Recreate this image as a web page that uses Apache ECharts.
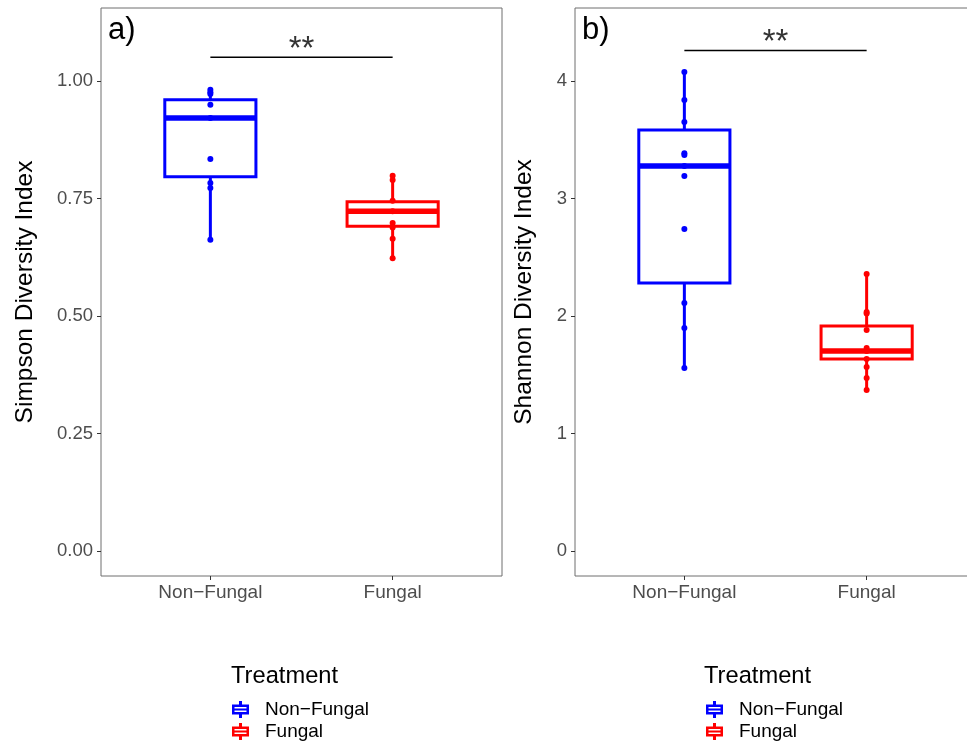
<!DOCTYPE html>
<html>
<head>
<meta charset="utf-8">
<script src="https://cdn.jsdelivr.net/npm/echarts@6/dist/echarts.min.js"></script>
<style>
html,body{margin:0;padding:0;background:#fff;}
#chart{width:967px;height:741px;}
</style>
</head>
<body>
<div id="chart"></div>
<script>
// ---------- data ----------
const categories = ['Non−Fungal', 'Fungal'];

// box stats: [min, Q1, median, Q3, max]
const simpsonNonFungalBox = [0.662, 0.796, 0.921, 0.960, 0.981];
const simpsonFungalBox    = [0.623, 0.691, 0.723, 0.743, 0.798];
const shannonNonFungalBox = [1.557, 2.281, 3.277, 3.583, 4.077];
const shannonFungalBox    = [1.370, 1.634, 1.702, 1.915, 2.357];

// individual points
const simpsonNonFungalPts = [0.981, 0.976, 0.972, 0.949, 0.921, 0.834, 0.783, 0.772, 0.662];
const simpsonFungalPts    = [0.798, 0.789, 0.745, 0.723, 0.698, 0.688, 0.664, 0.623];
const shannonNonFungalPts = [4.077, 3.838, 3.651, 3.385, 3.370, 3.277, 3.191, 2.740, 2.111, 1.898, 1.557];
const shannonFungalPts    = [2.357, 2.034, 2.020, 1.881, 1.728, 1.702, 1.634, 1.566, 1.472, 1.370];

// significance brackets
const simpsonSigLevel = 1.05;
const shannonSigLevel = 4.26;
const sigLabel = '**';

// tick values / labels
const simpsonTicks = [0, 0.25, 0.5, 0.75, 1.0];
const simpsonTickLabels = ['0.00', '0.25', '0.50', '0.75', '1.00'];
const shannonTicks = [0, 1, 2, 3, 4];
const shannonTickLabels = ['0', '1', '2', '3', '4'];

const panelLabels = ['a)', 'b)'];
const yTitles = ['Simpson Diversity Index', 'Shannon Diversity Index'];
const legendTitle = 'Treatment';

// ---------- styling ----------
const FONT = "'Liberation Sans', Arial, Helvetica, sans-serif";
const BLUE = '#0000FF', RED = '#FF0000';
const FRAME = '#6e6e6e';
const catPos = categories.map((c, i) => i + 1);

function boxItem(i, box) { return [catPos[i]].concat(box); }
function pts(i, arr) { return arr.map(v => [catPos[i], v]); }

function renderBox(params, api) {
  const x = api.value(0);
  const mn = api.value(1), q1 = api.value(2), md = api.value(3), q3 = api.value(4), mx = api.value(5);
  const hw = 0.25;
  const pMin = api.coord([x, mn]);
  const pQ1 = api.coord([x, q1]);
  const pQ3 = api.coord([x, q3]);
  const pMax = api.coord([x, mx]);
  const tl = api.coord([x - hw, q3]);
  const br = api.coord([x + hw, q1]);
  const mL = api.coord([x - hw, md]);
  const mR = api.coord([x + hw, md]);
  const color = api.visual('color');
  return {
    type: 'group',
    children: [
      {type: 'line', shape: {x1: pMin[0], y1: pMin[1], x2: pQ1[0], y2: pQ1[1]}, style: {stroke: color, lineWidth: 3}},
      {type: 'line', shape: {x1: pQ3[0], y1: pQ3[1], x2: pMax[0], y2: pMax[1]}, style: {stroke: color, lineWidth: 3}},
      {type: 'rect', shape: {x: tl[0], y: tl[1], width: br[0] - tl[0], height: br[1] - tl[1]}, style: {fill: '#fff', stroke: color, lineWidth: 3}},
      {type: 'line', shape: {x1: mL[0], y1: mL[1], x2: mR[0], y2: mR[1]}, style: {stroke: color, lineWidth: 5.5}}
    ]
  };
}

const legendIcon = 'path://M7,0H10V4H7Z M0,3.5H17V13.5H0Z M2.5,6V11H14.5V6Z M2.5,7.5H14.5V9.6H2.5Z M7,13H10V17H7Z';

const grids = [
  {left: 101, top: 8, width: 401, height: 568, show: true, borderColor: FRAME, borderWidth: 1, outerBoundsMode: 'none', containLabel: false},
  {left: 575, top: 8, width: 401, height: 568, show: true, borderColor: FRAME, borderWidth: 1, outerBoundsMode: 'none', containLabel: false}
];

function xAxis(gi) {
  return {
    type: 'value', gridIndex: gi, min: 0.4, max: 2.6, position: 'bottom',
    axisLine: {show: false, onZero: false}, splitLine: {show: false},
    axisTick: {show: true, length: 4, lineStyle: {color: '#333', width: 1}, customValues: catPos},
    axisLabel: {show: true, customValues: catPos, formatter: v => categories[Math.round(v) - 1], fontSize: 19, color: '#4D4D4D', fontFamily: FONT, margin: 7}
  };
}
function yAxis(gi, min, max, ticks, labels, title, gap) {
  return {
    type: 'value', gridIndex: gi, min: min, max: max,
    axisLine: {show: false, onZero: false}, splitLine: {show: false},
    axisTick: {show: true, length: 4, lineStyle: {color: '#333', width: 1}, customValues: ticks},
    axisLabel: {show: true, customValues: ticks, formatter: v => labels[ticks.indexOf(ticks.reduce((a, b) => Math.abs(b - v) < Math.abs(a - v) ? b : a))], fontSize: 18.5, color: '#4D4D4D', fontFamily: FONT, margin: 8},
    name: title, nameLocation: 'middle', nameGap: gap, nameRotate: 90,
    nameTextStyle: {fontSize: 24.5, color: '#000', fontFamily: FONT}
  };
}

function panelSeries(gi, nfBox, fBox, nfPts, fPts, sig) {
  return [
    {name: categories[0], type: 'custom', xAxisIndex: gi, yAxisIndex: gi, renderItem: renderBox, data: [boxItem(0, nfBox)], encode: {x: 0, y: [1, 2, 3, 4, 5]}, itemStyle: {color: BLUE}, z: 3},
    {name: categories[1], type: 'custom', xAxisIndex: gi, yAxisIndex: gi, renderItem: renderBox, data: [boxItem(1, fBox)], encode: {x: 0, y: [1, 2, 3, 4, 5]}, itemStyle: {color: RED}, z: 3},
    {name: categories[0], type: 'scatter', xAxisIndex: gi, yAxisIndex: gi, data: pts(0, nfPts), symbolSize: 6, itemStyle: {color: BLUE, opacity: 1}, z: 5},
    {name: categories[1], type: 'scatter', xAxisIndex: gi, yAxisIndex: gi, data: pts(1, fPts), symbolSize: 6, itemStyle: {color: RED, opacity: 1}, z: 5},
    {type: 'line', xAxisIndex: gi, yAxisIndex: gi, data: [[catPos[0], sig], [catPos[1], sig]], symbol: 'none', lineStyle: {color: '#000', width: 1.5}, z: 4, silent: true},
    {type: 'scatter', xAxisIndex: gi, yAxisIndex: gi, data: [[(catPos[0] + catPos[1]) / 2, sig]], symbolSize: 0, silent: true, z: 4,
      label: {show: true, position: 'top', distance: -9, formatter: sigLabel, fontSize: 33, color: '#000', fontFamily: FONT}}
  ];
}

const titleStyle = (size) => ({fontSize: size, fontWeight: 'normal', color: '#000', fontFamily: FONT});
const legendOpt = (left) => ({
  orient: 'vertical', left: left, top: 700, bottom: -30, padding: 0, itemWidth: 17, itemHeight: 17, itemGap: 3,
  data: categories.map(c => ({name: c, icon: legendIcon})), itemStyle: {borderWidth: 0},
  textStyle: {fontSize: 19, lineHeight: 19, color: '#000', fontFamily: FONT, padding: [0, 0, 0, 11]}
});

const option = {
  animation: false,
  backgroundColor: '#fff',
  title: [
    {text: panelLabels[0], left: 108, top: 15, padding: 0, textStyle: titleStyle(31)},
    {text: panelLabels[1], left: 582, top: 15, padding: 0, textStyle: titleStyle(31)},
    {text: legendTitle, left: 231, top: 664, padding: 0, textStyle: titleStyle(23.7)},
    {text: legendTitle, left: 704, top: 664, padding: 0, textStyle: titleStyle(23.7)}
  ],
  legend: [legendOpt(232), legendOpt(706)],
  grid: grids,
  xAxis: [xAxis(0), xAxis(1)],
  yAxis: [
    yAxis(0, -0.053, 1.155, simpsonTicks, simpsonTickLabels, yTitles[0], 63),
    yAxis(1, -0.213, 4.621, shannonTicks, shannonTickLabels, yTitles[1], 38)
  ],
  series: [].concat(
    panelSeries(0, simpsonNonFungalBox, simpsonFungalBox, simpsonNonFungalPts, simpsonFungalPts, simpsonSigLevel),
    panelSeries(1, shannonNonFungalBox, shannonFungalBox, shannonNonFungalPts, shannonFungalPts, shannonSigLevel)
  )
};

const chart = echarts.init(document.getElementById('chart'), null, {renderer: 'canvas'});
chart.setOption(option);
</script>
</body>
</html>
